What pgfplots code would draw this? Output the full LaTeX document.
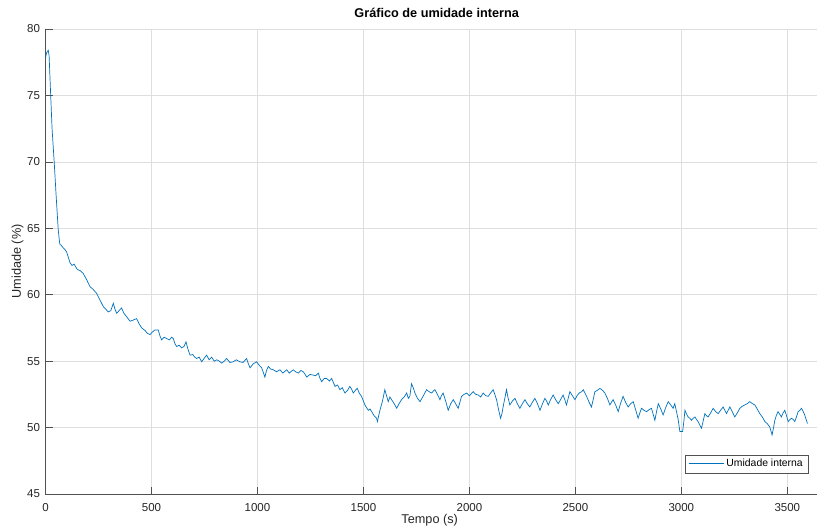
\documentclass[border=0pt]{standalone}
\usepackage{pgfplots}
\pgfplotsset{compat=1.18}
\usepackage{pgfplotstable}
\usepackage{fontspec}
\setmainfont{Liberation Sans}
\definecolor{mblue}{rgb}{0,0.447,0.741}
\definecolor{mtext}{RGB}{38,38,38}
\definecolor{mgrid}{RGB}{222,222,222}
\pgfplotstableread{
x y
0 77.8
5 78.2
13 78.4
17 78.0
24.5 75.0
31 72.5
41 70.0
50 67.5
60 64.9
66 64.0
68 63.8
75 63.7
85 63.5
92 63.4
100 63.2
108 62.8
116 62.4
125 62.2
135 62.3
150 61.9
165 61.8
178 61.6
195 61.1
210 60.6
225 60.4
241 60.1
257 59.6
273 59.1
285 58.9
296 58.7
308 58.8
320 59.35
328 58.9
336 58.6
347 58.8
359 59.0
370 58.6
385 58.3
399 58.0
415 58.1
430 58.2
442 57.8
454 57.5
470 57.3
480 57.1
493 57.0
505 57.2
516 57.35
532 57.35
540 56.9
548 56.6
560 56.8
572 56.7
585 56.6
595 56.8
603 56.7
611 56.3
619 56.1
630 56.2
642 56.0
653 56.1
663 56.45
672 55.9
682 55.45
695 55.5
704 55.3
713 55.2
725 55.3
737 54.95
748 55.2
760 55.45
772 55.1
784 55.3
796 55.0
808 55.1
820 55.0
831 54.85
843 55.0
855 55.2
870 54.9
886 54.95
900 55.1
917 54.95
932 54.9
949 55.2
957 54.8
965 54.5
980 54.8
996 54.95
1008 54.7
1020 54.5
1035 53.8
1043 54.3
1051 54.6
1063 54.4
1075 54.35
1090 54.2
1106 54.35
1120 54.1
1138 54.35
1150 54.1
1169 54.35
1180 54.2
1193 54.1
1205 54.3
1216 54.2
1225 54.0
1232 53.8
1248 54.0
1263 53.95
1275 53.9
1287 54.1
1295 53.7
1303 53.45
1315 53.7
1326 53.7
1340 53.5
1350 53.7
1358 53.4
1366 53.1
1378 53.2
1389 52.85
1400 53.0
1413 52.6
1425 52.8
1436 53.1
1444 52.9
1452 52.6
1462 52.8
1471 52.95
1480 52.6
1491 52.35
1500 52.0
1507 51.7
1515 51.5
1523 51.3
1531 51.4
1539 51.2
1550 50.9
1562 50.7
1566 50.45
1572 50.9
1578 51.3
1590 52.0
1601 52.85
1609 52.4
1617 51.95
1625 52.3
1633 52.1
1645 51.8
1657 51.45
1668 51.8
1680 52.1
1692 52.3
1704 52.6
1712 52.2
1719 52.35
1727 53.3
1735 53.0
1743 52.6
1755 52.2
1767 51.95
1783 52.4
1798 52.85
1810 52.7
1822 52.6
1830 52.75
1837 52.85
1849 52.5
1861 52.1
1868 52.4
1876 52.6
1888 52.0
1900 51.3
1912 51.8
1924 52.1
1935 51.8
1947 51.45
1955 51.9
1963 52.35
1975 52.5
1987 52.6
2000 52.4
2018 52.7
2030 52.5
2042 52.45
2053 52.3
2065 52.6
2077 52.4
2089 52.35
2100 52.6
2112 52.85
2120 52.5
2128 52.1
2137 51.4
2147 50.7
2153 51.0
2159 51.55
2167 52.2
2175 52.85
2183 52.2
2191 51.7
2203 52.0
2215 52.2
2226 51.8
2238 51.45
2250 51.8
2262 52.1
2273 51.8
2285 51.55
2297 51.9
2309 52.2
2321 51.8
2333 51.3
2345 51.8
2356 52.2
2364 52.0
2372 51.7
2383 52.1
2395 52.45
2407 52.1
2419 51.8
2430 52.1
2442 52.45
2450 52.1
2458 51.7
2466 52.2
2474 52.7
2486 52.4
2498 52.1
2508 52.4
2518 52.6
2530 52.7
2537 52.85
2545 52.6
2553 52.35
2565 51.9
2576 51.55
2584 52.1
2592 52.7
2604 52.8
2616 52.95
2628 52.8
2639 52.6
2651 52.2
2663 51.7
2670 51.9
2678 52.1
2690 51.7
2702 51.2
2713 51.8
2725 52.35
2737 51.9
2749 51.55
2761 51.8
2773 51.95
2785 51.3
2796 50.7
2804 51.1
2812 51.45
2824 51.3
2836 51.2
2848 51.35
2859 51.45
2867 51.0
2875 50.55
2883 51.2
2891 51.8
2903 51.4
2914 50.95
2926 51.5
2938 51.95
2950 51.7
2961 51.45
2969 51.8
2977 51.2
2985 50.6
2993 49.7
3006 49.7
3012 50.5
3017 51.3
3025 51.0
3032 50.8
3040 50.7
3048 50.55
3056 50.7
3064 50.8
3072 50.6
3079 50.45
3087 50.2
3095 49.95
3103 50.5
3111 51.05
3118 50.9
3126 50.8
3138 51.1
3150 51.45
3162 51.2
3174 51.05
3185 51.3
3197 51.55
3205 51.3
3213 51.05
3221 51.3
3229 51.55
3240 51.2
3252 50.8
3264 51.1
3276 51.45
3287 51.6
3299 51.7
3311 51.8
3323 51.95
3335 51.8
3347 51.7
3358 51.4
3370 51.05
3382 50.8
3394 50.45
3405 50.3
3417 50.05
3428 49.45
3435 50.0
3441 50.55
3448 50.9
3456 51.2
3464 51.0
3472 50.8
3480 51.1
3488 51.3
3496 50.9
3504 50.45
3512 50.6
3520 50.7
3528 50.6
3535 50.45
3543 50.8
3551 51.2
3559 51.3
3567 51.45
3575 51.2
3582 50.95
3589 50.6
3595 50.3
}\umidade
\begin{document}
\begin{tikzpicture}
\begin{axis}[
  at={(45.5pt,35pt)}, anchor=south west,
  scale only axis, width=771.5pt, height=465pt,
  xmin=0, xmax=3640, ymin=45, ymax=80,
  xtick={0,500,...,3500}, ytick={45,50,...,80},
  axis x line*=bottom, axis y line*=left,
  axis line style={color=mtext!80, line width=0.6pt},
  tick align=inside, major tick length=7pt,
  tick style={color=mtext!80, line width=0.6pt},
  grid=major, major grid style={color=mgrid, line width=0.5pt},
  /pgf/number format/assume math mode=true,
  /pgf/number format/1000 sep={},
  ticklabel style={font=\fontsize{11.5}{13}\selectfont, color=mtext},
  xticklabel style={anchor=base, yshift=-18pt},
  yticklabel style={anchor=east, xshift=-2pt},
  title={Gráfico de umidade interna},
  title style={font=\fontsize{12.7}{14}\selectfont\bfseries, color=black, at={(axis description cs:0.507,1)}, anchor=base, yshift=5pt},
  xlabel={Tempo (s)},
  xlabel style={font=\fontsize{12.7}{14}\selectfont, color=mtext, at={(axis description cs:0.498,0)}, anchor=base, yshift=-30pt},
  ylabel={Umidade (\%)},
  ylabel style={font=\fontsize{12.7}{14}\selectfont, color=mtext, at={(axis description cs:-0.0363,0.5)}, anchor=center},
  legend style={at={(0.9883,0.0452)}, anchor=south east, draw=mtext!80,
    font=\fontsize{10.4}{12}\selectfont, inner xsep=3pt, inner ysep=2.5pt},
  legend cell align=left,
  legend image code/.code={%
    \pgfsetstrokecolor{mblue}\pgfsetlinewidth{0.8pt}%
    \pgfpathmoveto{\pgfpoint{-1pt}{0pt}}\pgfpathlineto{\pgfpoint{34pt}{0pt}}%
    \pgfusepath{stroke}},
]
\addplot[color=mblue, line width=0.7pt, mark=none] table[x=x, y=y] {\umidade};
\addlegendentry{Umidade interna}
\end{axis}
\pgfresetboundingbox
\useasboundingbox (0,0) rectangle (817pt,529pt);
\end{tikzpicture}
\end{document}
